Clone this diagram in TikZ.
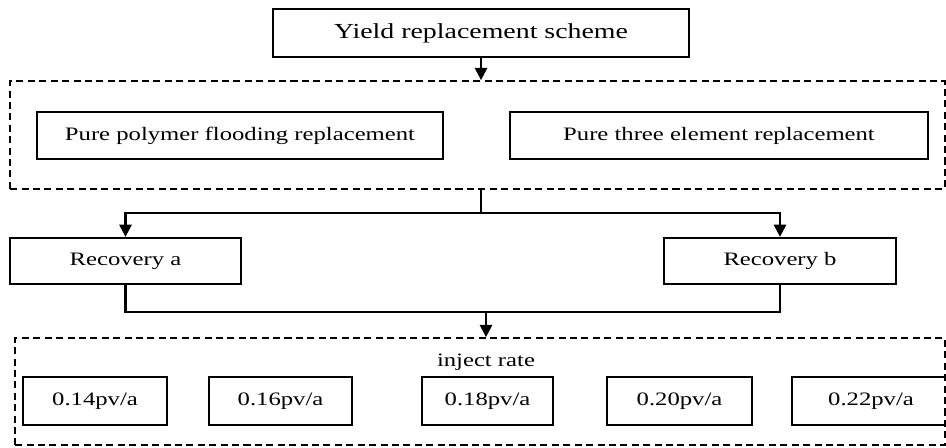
\documentclass[tikz,border=0pt]{standalone}
\usepackage{fontspec}
\setmainfont{Liberation Serif}[FakeStretch=1.3]
\usetikzlibrary{arrows.meta}

\begin{document}
\begin{tikzpicture}
[x=0.02cm,y=-0.02cm,
  boxDecorate/.style={shape=rectangle,draw,line width=1.3pt,inner sep=0pt,font=\fontsize{10.8}{13}\selectfont},
  groupDecorate/.style={shape=rectangle,draw,line width=1pt,dash pattern=on 4pt off 2.5pt,inner sep=0pt},
  lineDecorate/.style={line width=1.3pt},
  arrowDecorate/.style={lineDecorate,-{Triangle[length=7pt,width=7pt]}}]
\useasboundingbox (0,0) rectangle (946,447);
%% dashed groups
\node (group1) at (477.5,135) [groupDecorate,minimum width=18.7cm,minimum height=2.16cm] {};
\node (group2) at (480,391.5) [groupDecorate,minimum width=18.6cm,minimum height=2.14cm] {};
%% boxes
\node (scheme) at (481,33) [boxDecorate,minimum width=8.32cm,minimum height=0.96cm,font=\fontsize{12.2}{15}\selectfont] {Yield replacement scheme};
\node (polymer) at (240,135.5) [boxDecorate,minimum width=8.12cm,minimum height=0.94cm] {Pure polymer flooding replacement};
\node (three) at (719,135.5) [boxDecorate,minimum width=8.36cm,minimum height=0.94cm] {Pure three element replacement};
\node (reca) at (125.5,261) [boxDecorate,minimum width=4.62cm,minimum height=0.92cm] {Recovery a};
\node (recb) at (780,261) [boxDecorate,minimum width=4.64cm,minimum height=0.92cm] {Recovery b};
\node (inject) at (486,362) [font=\fontsize{10.8}{13}\selectfont] {inject rate};
\foreach \nodename/\x/\w/\val in {r14/95/2.88/0.14, r16/280.5/2.86/0.16, r18/487.5/2.62/0.18, r20/679.5/2.9/0.20, r22/871/3.16/0.22} {
  \node (\nodename) at (\x,401) [boxDecorate,minimum width=\w cm,minimum height=0.96cm] {\val pv/a};
}
%% connectors
\coordinate (split) at (481,213);
\coordinate (merge) at (486,312);
\draw[arrowDecorate] (scheme.south) -- (scheme.south |- group1.north);
\draw[lineDecorate] (split |- group1.south) -- (split);
\draw[arrowDecorate] (split) -| (reca.north);
\draw[arrowDecorate] (split) -| (recb.north);
\draw[lineDecorate] (reca.south) |- (merge) -| (recb.south);
\draw[arrowDecorate] (merge) -- (merge |- group2.north);
\end{tikzpicture}
\end{document}
